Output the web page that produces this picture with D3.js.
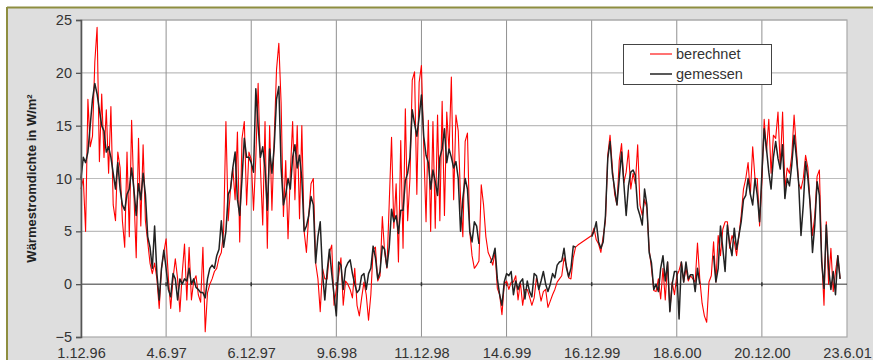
<!DOCTYPE html>
<html><head><meta charset="utf-8">
<script src="https://cdn.jsdelivr.net/npm/d3@7"></script>
<style>body{margin:0;background:#fff}svg{display:block}</style>
</head><body><svg id="c" width="873" height="360"></svg>
<script>
// ---- data ----
const tickLabels = ["1.12.96","4.6.97","6.12.97","9.6.98","11.12.98","14.6.99","16.12.99","18.6.00","20.12.00","23.6.01"];
const yTicks = [-5,0,5,10,15,20,25];
const seriesNames = ["berechnet","gemessen"];
const stepDays = 5; // one value every 5 days, 37 values per half-year block

// gemessen (measured), per half-year block
const gemA = [10,12,11.5,12.5,15,17.5,19,18,16.5,15,14.5,12.5,13,12,10.5,9,11.5,9,7.5,7,8.5,9,11,9,6.5,9.5,8,10.5,8.5,4.5,3.5,1.5,5.5,1,-1.5,1.5,3.2];
const gemB = [1.5,-0.5,-1.2,1,0.5,-1.5,0.5,0,0.5,0.3,1.5,0,0.5,-0.3,-0.5,-0.8,-0.8,-1.3,0.5,1.5,1.8,1.5,2.7,3.3,6,3.5,5,8.5,9,11,12.5,8,6.5,10,13.8,12,12];
const gemC = [11.5,10.6,18.5,15,12,13,11,7,12.8,10.5,13,17.5,18.7,11,7.5,8.5,10,9,12,13.2,11,12.2,10,5,5.5,6.5,8.3,7.5,2,4.5,5.9,1,-1.5,1.2,3.3,1,-1];
const gemD = [-3,2.1,1.8,-0.5,1.5,2,2.3,1,0,-0.8,-0.5,0.8,1,-0.5,1,1.5,3.6,2.5,0.5,1.2,3.6,3.3,1.6,3.5,7.1,5.9,6.5,4.8,7,7,9.8,10.5,12,16.5,15.2,14,15.8];
const gemE = [17.9,14,12.2,11.5,9,10.8,9.7,8.4,12,12.8,14.7,11.5,12.8,12,11,11.6,10,5,8.1,10,9,5,4,5.9,5.5,3.8,null,null,null,null,2,2.5,3.4,0.5,-1,-2,0.2];
const gemF = [1,0.8,1.2,-1,0.3,-0.5,0.2,0.5,-1.4,0.3,-0.7,-1.2,1,0.8,-0.5,0.3,1.2,0,-0.7,0,1,0.6,1.8,2.1,2.2,3.4,1.6,0.7,1.5,3.6,3.5,null,null,null,null,null,null];
const gemG = [4.5,5,5.9,4,3.4,4,6.5,11.9,13.5,10.5,9,7.5,10,12.5,9.5,6.5,9.3,10.6,10.8,10.3,7.2,6.5,5.6,9,7.5,3,2,-0.5,0,-0.7,1.5,2.7,0.3,2.1,-2.6,0,1.2];
const gemH = [1.2,-3.3,2.1,0.2,2.1,0.5,0.9,0.9,-0.7,1.5,0,null,null,null,null,null,2.7,0.2,1.5,5.5,3.4,1.2,5.6,3.8,2.7,5.3,3.3,4.6,5.9,8,8.4,10,8.5,7.5,10,8.4,5.9];
const gemI = [10.5,14.7,12.8,10.6,9,12,13.5,11.9,10.9,13.2,8.1,10,9.3,11.3,14.1,12,9.5,4.6,7.5,11.6,10,7.5,3,5.6,9.7,8.4,2.1,-0.4,5.6,1.5,-0.5,1.2,-1,2.7,0.5,null,null];

// berechnet (calculated), per half-year block
const berA = [9,10,5,17.5,13,14,21,24.3,11.6,18,12,16.5,10.5,16.8,7.5,6,12.5,11,6,3.5,12.5,4.5,15.5,8.5,2.5,13.8,5.5,13.2,6,4,2,1,2,0.5,-2.3,1.5,3];
const berB = [4.3,0.5,-2.3,0.5,2.4,0.5,-2.6,1,3.8,-1.5,3.5,-1.5,0.3,0.8,-1,-1.7,3.5,-4.5,-0.8,0,0.5,1.2,1.5,2.5,3,5,15.4,6,9,11,8,14.4,4,13.8,15.4,7.5,12.5];
const berC = [11.8,7,12,19,11,5.6,15.4,3.4,15,7,13.8,20.3,22.8,17.1,6.4,11.7,4.3,10.5,15.4,8,15,6.2,15,5,3,6.5,9.5,10,2,0.5,-2.6,1.5,0.5,0.5,3,3.7,-2];
const berD = [-0.5,0.8,2.5,-2,0.3,0,-0.5,-1.3,1.5,-2,-3,-1.3,0.2,-1,-3.4,-1,3.3,3.5,0.3,0.8,6.4,3,1.5,7.7,13.9,5.3,9.5,2.1,13.6,3.4,16.6,6,10,19.3,20.1,8.5,19.1];
const berE = [20.7,13,5.9,15.5,5,15.4,5.3,16,6,17.3,6.5,16.3,12.5,19.6,8,16,14.5,8.1,4.5,13.5,14.3,5,2.7,1.5,1.8,2.2,9.4,7.5,4.5,3,2.5,1.8,3,-0.4,-1,-2.9,0];
const berF = [0.3,-0.5,0.2,0.2,0.8,-1.5,0.2,-2,-0.5,-0.5,-1.2,-2,-1.3,0.6,-0.4,-1.6,-0.7,-0.5,-2.2,-1.6,-1,-0.5,0.2,0.5,0.8,2.5,1.8,0.6,0.5,2.5,3.5,3.7,null,null,null,null,null];
const berG = [4.6,5.3,4.2,3.8,3,4.5,6,12.2,14.1,11,8.5,7.5,11.7,13.3,9.6,10.6,12.7,9,10.5,9.5,13.2,7.5,6.5,8,7.2,3.3,1.5,-0.6,-0.7,0.5,-1.4,1.5,-1.5,2.1,-2.5,0.2,-1];
const berH = [0.8,1.3,2.1,0.2,1.5,0.3,0.8,0.5,0.2,3.9,0.5,-1.8,-3,-3.6,0.2,0.8,4,0.2,4.6,2.7,5.2,5.9,5.9,3.4,4.6,4,2.7,4.6,6.5,9,10,11.5,8.5,13,10,10,5.5];
const berI = [9.7,15.6,12.5,15.6,10.5,14.1,13.8,16.3,11,16.3,9,11,10.5,12.2,16,12.8,9.5,9,10,12.2,11,7.5,4.6,6.5,10.2,10.8,2.5,-2,5.9,0,3.4,-0.7,1.2,2.7,0.5,null,null];

const gemessen = [].concat(gemA,gemB,gemC,gemD,gemE,gemF,gemG,gemH,gemI);
const berechnet = [].concat(berA,berB,berC,berD,berE,berF,berG,berH,berI);

// ---- chart ----
const W = 873, H = 360;
const M = {left:81, right:847, top:20, bottom:337};
const FONT = "'Liberation Sans', Arial, sans-serif";
const svg = d3.select("#c");

svg.append("rect").attr("x",0).attr("y",0).attr("width",W).attr("height",H).attr("fill","#fff");
svg.append("rect").attr("x",7).attr("y",7).attr("width",W-7).attr("height",H-7).attr("fill","#dedede");
svg.append("line").attr("x1",7).attr("x2",W).attr("y1",7.5).attr("y2",7.5).attr("stroke","#8e8e40").attr("stroke-width",2);
svg.append("line").attr("x1",7).attr("x2",7).attr("y1",7).attr("y2",H).attr("stroke","#8e8e40").attr("stroke-width",2);

const parse = d3.utcParse("%d.%m.%y");
const tickDates = tickLabels.map(parse);
const t0 = tickDates[0];
const x = d3.scaleUtc().domain([t0, tickDates[tickDates.length-1]]).range([M.left, M.right]);
const y = d3.scaleLinear().domain([-5,25]).range([M.bottom, M.top]);

svg.append("rect").attr("x",M.left).attr("y",M.top).attr("width",M.right-M.left).attr("height",M.bottom-M.top)
  .attr("fill","#fff");

// horizontal grid
svg.append("g").selectAll("line").data(yTicks.filter(v=>v!==0 && v!==-5)).join("line")
  .attr("x1",M.left).attr("x2",M.right).attr("y1",d=>y(d)).attr("y2",d=>y(d))
  .attr("stroke","#bdbdbd").attr("stroke-width",1.2);
// vertical grid
svg.append("g").selectAll("line").data(tickDates.slice(1,-1)).join("line")
  .attr("x1",d=>x(d)).attr("x2",d=>x(d)).attr("y1",M.top).attr("y2",M.bottom)
  .attr("stroke","#909090").attr("stroke-width",1);
// border
svg.append("rect").attr("x",M.left).attr("y",M.top).attr("width",M.right-M.left).attr("height",M.bottom-M.top)
  .attr("fill","none").attr("stroke","#a8a8a8").attr("stroke-width",1.2);
// zero line
svg.append("line").attr("x1",M.left).attr("x2",M.right).attr("y1",y(0)).attr("y2",y(0))
  .attr("stroke","#333").attr("stroke-width",1);
svg.append("g").selectAll("line").data(tickDates.slice(1,-1)).join("line")
  .attr("x1",d=>x(d)).attr("x2",d=>x(d)).attr("y1",y(0)-2).attr("y2",y(0)+2)
  .attr("stroke","#333").attr("stroke-width",1.5);

// series
const pts = arr => arr.map((v,k)=>({d:d3.utcDay.offset(t0,k*stepDays), v}));
const line = d3.line().x(p=>x(p.d)).y(p=>y(p.v));
svg.append("path").datum(pts(berechnet).filter(p=>p.v!==null))
  .attr("d",line).attr("fill","none").attr("stroke","#ff0000").attr("stroke-width",1.1).attr("stroke-linejoin","round");
svg.append("path").datum(pts(gemessen))
  .attr("d",line.defined(p=>p.v!==null)).attr("fill","none").attr("stroke","#222").attr("stroke-width",1.5).attr("stroke-linejoin","round");

// y axis
const yAxis = svg.append("g").attr("transform",`translate(${M.left},0)`)
  .call(d3.axisLeft(y).tickValues(yTicks).tickSize(5).tickPadding(4));
yAxis.select(".domain").attr("stroke","#555").attr("stroke-width",1.6);
yAxis.selectAll(".tick line").attr("stroke","#555").attr("stroke-width",1.3);
yAxis.selectAll("text").attr("font-family",FONT).attr("font-size",14.5).attr("fill","#333");

// x axis labels
const xAxis = svg.append("g").attr("transform",`translate(0,${M.bottom})`)
  .call(d3.axisBottom(x).tickValues(tickDates).tickFormat((d,i)=>tickLabels[i]).tickSize(0).tickPadding(11));
xAxis.select(".domain").remove();
xAxis.selectAll("text").attr("font-family",FONT).attr("font-size",14.5).attr("fill","#333");

// y title
svg.append("text").attr("transform",`translate(36,${(M.top+M.bottom)/2}) rotate(-90)`)
  .attr("text-anchor","middle").attr("font-family",FONT).attr("font-weight","bold")
  .attr("font-size",13).attr("fill","#222").text("Wärmestromdichte in W/m²");

// legend
const lg = svg.append("g");
lg.append("rect").attr("x",623.5).attr("y",44.5).attr("width",148).attr("height",40).attr("fill","#fff").attr("stroke","#444");
const lcol = ["#ff0000","#222"];
seriesNames.forEach((n,i)=>{
  const yy = 54 + i*20;
  lg.append("line").attr("x1",650).attr("x2",672).attr("y1",yy).attr("y2",yy).attr("stroke",lcol[i]).attr("stroke-width",i?1.5:1.1);
  lg.append("text").attr("x",676).attr("y",yy).attr("dy","0.35em").attr("font-family",FONT).attr("font-size",14.5).attr("fill","#333").text(n);
});
</script></body></html>
